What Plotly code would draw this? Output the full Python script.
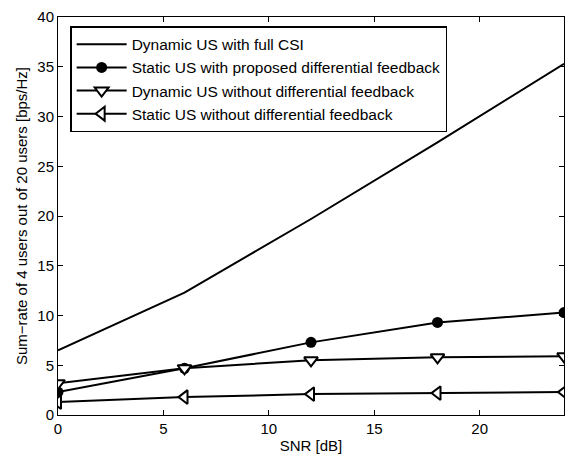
import plotly.graph_objects as go

snr = [0, 6, 12, 18, 24]
full_csi = [6.5, 12.3, 19.7, 27.4, 35.3]
static_prop = [2.3, 4.7, 7.3, 9.3, 10.3]
dyn_nodiff = [3.2, 4.7, 5.5, 5.8, 5.9]
static_nodiff = [1.3, 1.8, 2.1, 2.2, 2.3]

names = [
    "Dynamic US with full CSI",
    "Static US with proposed differential feedback",
    "Dynamic US without differential feedback",
    "Static US without differential feedback",
]

fig = go.Figure()
fig.add_trace(go.Scatter(x=snr, y=full_csi, mode="lines", name=names[0],
                         line=dict(color="black", width=2)))
fig.add_trace(go.Scatter(x=snr, y=static_prop, mode="lines+markers", name=names[1],
                         line=dict(color="black", width=2),
                         marker=dict(symbol="circle", size=11, color="black")))
fig.add_trace(go.Scatter(x=snr, y=dyn_nodiff, mode="lines+markers", name=names[2],
                         line=dict(color="black", width=2),
                         marker=dict(symbol="triangle-down", size=12, color="white",
                                     line=dict(color="black", width=2))))
fig.add_trace(go.Scatter(x=snr, y=static_nodiff, mode="lines+markers", name=names[3],
                         line=dict(color="black", width=2),
                         marker=dict(symbol="triangle-left", size=12, color="white",
                                     line=dict(color="black", width=2))))

axis_common = dict(showgrid=False, zeroline=False, showline=True, linecolor="black",
                   linewidth=1, mirror="ticks", ticks="inside", ticklen=5,
                   tickcolor="black", tickfont=dict(size=15, color="black"))

fig.update_layout(
    width=573, height=460,
    margin=dict(l=58, r=8, t=15, b=45),
    paper_bgcolor="white", plot_bgcolor="white",
    font=dict(family="Liberation Sans, Arial, sans-serif", color="black", size=15),
    xaxis=dict(range=[0, 24], tickvals=[0, 5, 10, 15, 20],
               title=dict(text="SNR [dB]", font=dict(size=15), standoff=4), **axis_common),
    yaxis=dict(range=[0, 40], tickvals=[0, 5, 10, 15, 20, 25, 30, 35, 40],
               title=dict(text="Sum\u2212rate of 4 users out of 20 users [bps/Hz]",
                          font=dict(size=15), standoff=6), **axis_common),
    legend=dict(x=0.024, y=0.977, xanchor="left", yanchor="top",
                bgcolor="white", bordercolor="black", borderwidth=1.5,
                font=dict(size=15.5), tracegroupgap=0, itemwidth=50),
    showlegend=True,
)

fig.write_html("out.html")
